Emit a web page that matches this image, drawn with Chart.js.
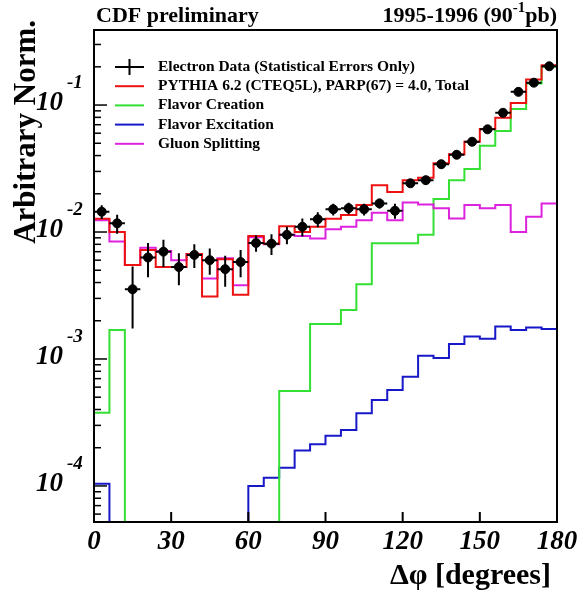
<!DOCTYPE html>
<html>
<head>
<meta charset="utf-8">
<script src="https://cdn.jsdelivr.net/npm/chart.js@4"></script>
<style>
  body { margin: 0; background: #fff; }
  canvas { display: block; }
</style>
</head>
<body>
<canvas id="chart__dphi" width="578" height="592"></canvas>
<script>
// bin edges in degrees (30 bins of 6 degrees)
const binEdges = [0, 6, 12, 18, 24, 30, 36, 42, 48, 54, 60, 66, 72, 78, 84, 90,
    96, 102, 108, 114, 120, 126, 132, 138, 144, 150, 156, 162, 168, 174, 180];
const binCenters = [3, 9, 15, 21, 27, 33, 39, 45, 51, 57, 63, 69, 75, 81, 87, 93,
    99, 105, 111, 117, 123, 129, 135, 141, 147, 153, 159, 165, 171, 177];

const electronData = [0.01445, 0.0117, 0.00354, 0.0063, 0.0070, 0.0053, 0.0066, 0.0060, 0.0051, 0.0058,
    0.0082, 0.0081, 0.0095, 0.0110, 0.0126, 0.0151, 0.0154, 0.0151, 0.0168, 0.0147,
    0.0242, 0.0256, 0.0342, 0.0406, 0.0514, 0.0644, 0.0869, 0.127, 0.150, 0.202];
const electronErrors = [0.0018, 0.0020, 0.0018, 0.0019, 0.0017, 0.0015, 0.0014, 0.0014, 0.0014, 0.0014,
    0.0012, 0.0015, 0.0015, 0.0018, 0.0017, 0.0016, 0.0016, 0.0016, 0.0015, 0.0020,
    0.0013, 0.0013, 0.0015, 0.0016, 0.0017, 0.0019, 0.0021, 0.0025, 0.0027, 0.0031];

const pythiaTotal = [0.0127, 0.0100, 0.0055, 0.0072, 0.0053, 0.0053, 0.0067, 0.0031, 0.0061, 0.0032,
    0.0093, 0.0081, 0.0111, 0.0100, 0.0110, 0.0127, 0.0136, 0.0163, 0.0234, 0.0207,
    0.0256, 0.0268, 0.0348, 0.0409, 0.0514, 0.0647, 0.0794, 0.104, 0.159, 0.206];
const flavorCreation = [0.000377, 0.00169, 0, 0, 0, 0, 0, 0, 0, 0,
    0, 0, 0.00056, 0.00056, 0.00189, 0.00189, 0.00243, 0.00387, 0.00815, 0.00815,
    0.00815, 0.0095, 0.0182, 0.0256, 0.0313, 0.0478, 0.0624, 0.093, 0.148, 0.200];
const flavorExcitation = [0.000104, 0, 0, 0, 0, 0, 0, 0, 0, 0,
    0.000100, 0.000116, 0.000139, 0.000190, 0.000213, 0.000249, 0.000276, 0.000373, 0.000475, 0.00057,
    0.000726, 0.00106, 0.00102, 0.00131, 0.00150, 0.00144, 0.00180, 0.00169, 0.00177, 0.00172];
const gluonSplitting = [0.0124, 0.0084, 0.0055, 0.0075, 0.0071, 0.0060, 0.0067, 0.0043, 0.0062, 0.0038,
    0.0091, 0.0080, 0.0095, 0.0093, 0.0089, 0.0105, 0.0110, 0.0124, 0.0142, 0.0124,
    0.0171, 0.0165, 0.0154, 0.0128, 0.0163, 0.0154, 0.0163, 0.0100, 0.0132, 0.0168];

const xTicks = [0, 30, 60, 90, 120, 150, 180];
const yDecades = [0.1, 0.01, 0.001, 0.0001];
const yExponents = ['-1', '-2', '-3', '-4'];

const yMin = 5.2e-5;
const yMax = 0.39;

const serif = '"Liberation Serif", "DejaVu Serif", serif';

// empty bins fall to the bottom of the frame
const histPoints = values => binEdges.map((edge, i) => {
    const v = values[Math.min(i, values.length - 1)];
    return { x: edge, y: v > 0 ? v : yMin / 100 };
});

const histogram = (label, values, color) => ({
    type: 'line',
    label: label,
    data: histPoints(values),
    borderColor: color,
    backgroundColor: color,
    borderWidth: 2,
    stepped: 'before',
    pointRadius: 0,
    fill: false,
    tension: 0
});

const errorBars = {
    id: 'errorBars',
    afterDatasetsDraw(chart) {
        const ctx = chart.ctx, xs = chart.scales.x, ys = chart.scales.y;
        ctx.save();
        ctx.strokeStyle = '#000';
        ctx.lineWidth = 2;
        electronData.forEach((v, i) => {
            const px = xs.getPixelForValue(binCenters[i]);
            const py = ys.getPixelForValue(v);
            const top = ys.getPixelForValue(v + electronErrors[i]);
            const bottom = ys.getPixelForValue(Math.max(v - electronErrors[i], yMin));
            ctx.beginPath();
            ctx.moveTo(px, top); ctx.lineTo(px, bottom);
            ctx.moveTo(xs.getPixelForValue(binEdges[i]), py);
            ctx.lineTo(xs.getPixelForValue(binEdges[i + 1]), py);
            ctx.stroke();
        });
        ctx.restore();
    }
};

const decorations = {
    id: 'decorations',
    afterDraw(chart) {
        const ctx = chart.ctx, area = chart.chartArea, xs = chart.scales.x, ys = chart.scales.y;
        ctx.save();
        ctx.strokeStyle = '#000';
        ctx.fillStyle = '#000';
        ctx.lineWidth = 2;
        ctx.strokeRect(area.left, area.top, area.right - area.left, area.bottom - area.top);

        // x ticks + labels
        ctx.font = 'bold italic 27px ' + serif;
        ctx.textAlign = 'center';
        ctx.textBaseline = 'middle';
        xTicks.forEach(t => {
            const px = xs.getPixelForValue(t);
            ctx.beginPath();
            ctx.moveTo(px, area.bottom); ctx.lineTo(px, area.bottom - 10);
            ctx.stroke();
            ctx.fillText(String(t), px, area.bottom + 20);
        });

        // y ticks (major at decades, minor 2..9)
        ctx.lineWidth = 1.5;
        for (let e = -5; e <= 0; e++) {
            for (let m = 1; m <= 9; m++) {
                const v = m * Math.pow(10, e);
                if (v < yMin || v > yMax) continue;
                const py = ys.getPixelForValue(v);
                ctx.beginPath();
                ctx.moveTo(area.left, py);
                ctx.lineTo(area.left + (m === 1 ? 13 : 7), py);
                ctx.stroke();
            }
        }

        // y labels 10^-n
        yDecades.forEach((v, i) => {
            const py = ys.getPixelForValue(v);
            ctx.font = 'bold italic 27px ' + serif;
            ctx.textAlign = 'right';
            ctx.textBaseline = 'middle';
            ctx.fillText('10', 63, py - 2);
            ctx.font = 'bold italic 19px ' + serif;
            ctx.textAlign = 'left';
            ctx.fillText(yExponents[i], 67, py - 22);
        });

        // axis titles
        ctx.font = 'bold 30px ' + serif;
        ctx.textAlign = 'right';
        ctx.textBaseline = 'alphabetic';
        ctx.fillText('\u0394\u03c6 [degrees]', 551, 584);

        ctx.save();
        ctx.font = 'bold 31px ' + serif;
        ctx.translate(35, 20);
        ctx.rotate(-Math.PI / 2);
        ctx.textAlign = 'right';
        ctx.fillText('Arbitrary Norm.', 0, 0);
        ctx.restore();

        // header
        ctx.font = 'bold 22px ' + serif;
        ctx.textAlign = 'left';
        ctx.fillText('CDF preliminary', 96, 22);
        const right = 557;
        ctx.textAlign = 'right';
        ctx.fillText('pb)', right, 22);
        const wPb = ctx.measureText('pb)').width;
        ctx.font = 'bold 15px ' + serif;
        ctx.fillText('-1', right - wPb, 12);
        const wExp = ctx.measureText('-1').width;
        ctx.font = 'bold 22px ' + serif;
        ctx.fillText('1995-1996 (90', right - wPb - wExp, 22);

        // legend
        const rows = [
            { text: 'Electron Data (Statistical Errors Only)', color: '#000', cross: true },
            { text: 'PYTHIA 6.2 (CTEQ5L), PARP(67) = 4.0, Total', color: chart.data.datasets[1].borderColor },
            { text: 'Flavor Creation', color: chart.data.datasets[3].borderColor },
            { text: 'Flavor Excitation', color: chart.data.datasets[4].borderColor },
            { text: 'Gluon Splitting', color: chart.data.datasets[2].borderColor }
        ];
        ctx.font = 'bold 15.5px ' + serif;
        ctx.textAlign = 'left';
        ctx.textBaseline = 'middle';
        rows.forEach((r, i) => {
            const y = 67 + i * 19.2;
            ctx.strokeStyle = r.color;
            ctx.lineWidth = 2;
            ctx.beginPath();
            ctx.moveTo(115, y); ctx.lineTo(144, y);
            if (r.cross) { ctx.moveTo(129.5, y - 8); ctx.lineTo(129.5, y + 8); }
            ctx.stroke();
            ctx.fillStyle = '#000';
            ctx.fillText(r.text, 158, y);
        });
        ctx.restore();
    }
};

new Chart(document.getElementById('chart__dphi'), {
    type: 'line',
    data: {
        datasets: [
            {
                type: 'scatter',
                label: 'Electron Data (Statistical Errors Only)',
                data: binCenters.map((c, i) => ({ x: c, y: electronData[i] })),
                backgroundColor: '#000',
                borderColor: '#000',
                pointRadius: 4.5,
                pointHoverRadius: 4.5,
                showLine: false
            },
            histogram('PYTHIA 6.2 (CTEQ5L), PARP(67) = 4.0, Total', pythiaTotal, '#ee1111'),
            histogram('Gluon Splitting', gluonSplitting, '#dd22dd'),
            histogram('Flavor Creation', flavorCreation, '#33e033'),
            histogram('Flavor Excitation', flavorExcitation, '#1818c8')
        ]
    },
    options: {
        responsive: false,
        animation: false,
        layout: { padding: { left: 94, right: 21, top: 30, bottom: 70 } },
        plugins: { legend: { display: false }, tooltip: { enabled: false } },
        scales: {
            x: { type: 'linear', min: 0, max: 180, display: false },
            y: { type: 'logarithmic', min: yMin, max: yMax, display: false }
        }
    },
    plugins: [errorBars, decorations]
});
</script>
</body>
</html>
